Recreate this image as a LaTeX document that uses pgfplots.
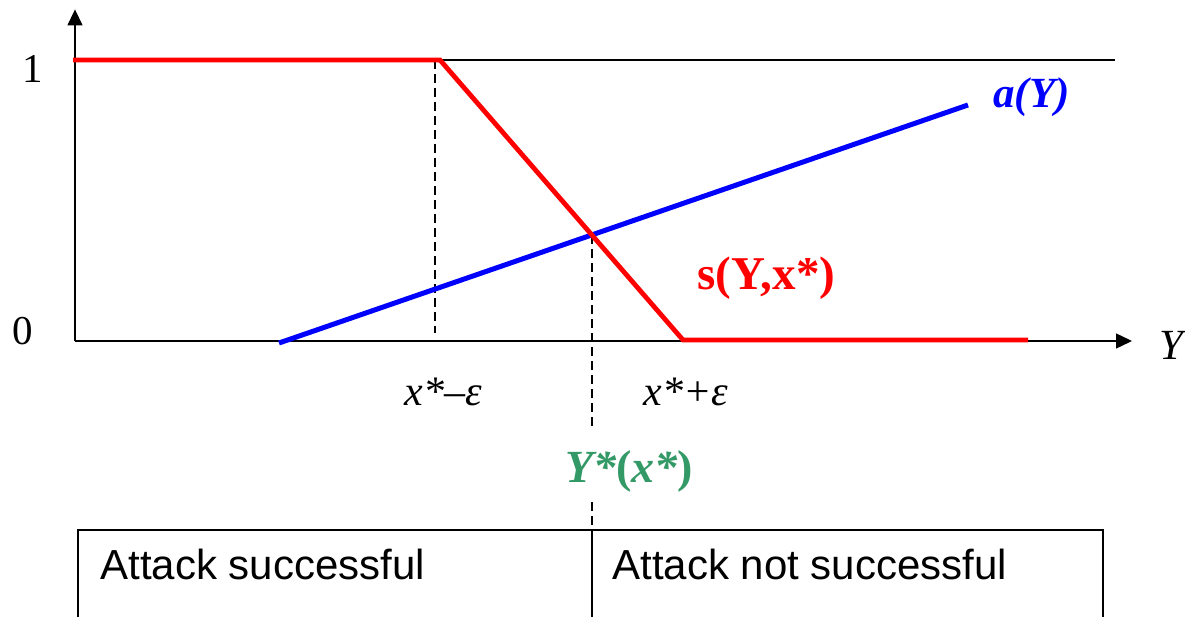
\documentclass[border=0pt]{standalone}
\usepackage{fontspec}
\setmainfont{Liberation Serif}[
    ItalicFont={Liberation Serif Italic},
    BoldFont={Liberation Serif Bold},
    BoldItalicFont={Liberation Serif Bold Italic}]
\newfontfamily\arial{Liberation Sans}
\usepackage{pgfplots}
\pgfplotsset{compat=1.18}
\usetikzlibrary{arrows.meta}
\definecolor{sred}{RGB}{255,0,0}
\definecolor{ablue}{RGB}{0,0,255}
\definecolor{ygreen}{RGB}{51,153,102}

\begin{document}
\begin{tikzpicture}
\begin{axis}[
    width=592.5pt, height=308.5pt,
    scale only axis,
    hide axis,
    clip=false,
    xmin=0, xmax=1185,
    ymin=-0.98221, ymax=1.21352,
]
% frame of the whole picture
\coordinate (bl) at (axis cs:0,-0.98221);
\coordinate (tr) at (axis cs:1185,1.21352);

% axes and the level-1 line
\draw[line width=0.7pt,-{Triangle[length=8pt,width=7.5pt]}] (axis cs:75,0) -- (axis cs:75,1.180);
\draw[line width=0.7pt,-{Triangle[length=8pt,width=7.5pt]}] (axis cs:75,0) -- (axis cs:1132,0);
\draw[line width=0.7pt] (axis cs:75,1) -- (axis cs:1115,1);

% dashed guides
\draw[line width=0.7pt,dash pattern=on 4.5pt off 2.5pt] (axis cs:435,1) -- (axis cs:435,0.0285);
\draw[line width=0.7pt,dash pattern=on 4.5pt off 2.5pt] (axis cs:592,0.3772) -- (axis cs:592,-0.3167);
\draw[line width=0.7pt,dash pattern=on 4.5pt off 2.5pt] (axis cs:592,-0.573) -- (axis cs:592,-0.6726);

% a(Y)
\addplot[ablue, line width=2.5pt] coordinates {(279,-0.0071) (968,0.8399)};
% s(Y,x*)
\addplot[sred, line width=2.4pt] coordinates {(73,1) (440,1) (683,0.0036) (1028,0.0036)};

% labels
\node[anchor=base, font=\fontsize{20.5}{22}\selectfont] at (axis cs:33,0.9217) {1};
\node[anchor=base, font=\fontsize{20.5}{22}\selectfont] at (axis cs:23,-0.0142) {0};
\node[anchor=base west, inner sep=0pt, font=\fontsize{21.5}{24}\selectfont\itshape] at (axis cs:1159,-0.0676) {Y};
\node[anchor=base, inner sep=0pt, font=\fontsize{21}{23}\selectfont\itshape] at (axis cs:443,-0.2278) {x*–ε};
\node[anchor=base, inner sep=0pt, font=\fontsize{21}{23}\selectfont\itshape] at (axis cs:686,-0.2278) {x*+ε};
\node[anchor=base west, inner sep=0pt, text=sred, font=\fontsize{23.5}{25}\selectfont\bfseries] at (axis cs:697,0.1815) {s(Y,x*)};
\node[anchor=base west, inner sep=0pt, text=ablue, font=\fontsize{21.5}{23}\selectfont\bfseries\itshape] at (axis cs:993,0.8327) {a(Y)};
\node[anchor=base, inner sep=0pt, text=ygreen, font=\fontsize{23}{25}\selectfont\bfseries\itshape] at (axis cs:629,-0.5053) {Y*{\upshape(}x*{\upshape)}};

% outcome box (cut off at the bottom)
\draw[line width=0.8pt] (axis cs:78,-0.98221) -- (axis cs:78,-0.6726) -- (axis cs:1103,-0.6726) -- (axis cs:1103,-0.98221);
\draw[line width=0.7pt] (axis cs:592,-0.6726) -- (axis cs:592,-0.98221);
\node[anchor=base west, inner sep=0pt, font=\arial\fontsize{21}{23}\selectfont] at (axis cs:100,-0.8505) {Attack successful};
\node[anchor=base west, inner sep=0pt, font=\arial\fontsize{21}{23}\selectfont] at (axis cs:612,-0.8505) {Attack not successful};
\end{axis}
\pgfresetboundingbox
\useasboundingbox (bl) rectangle (tr);
\end{tikzpicture}
\end{document}
